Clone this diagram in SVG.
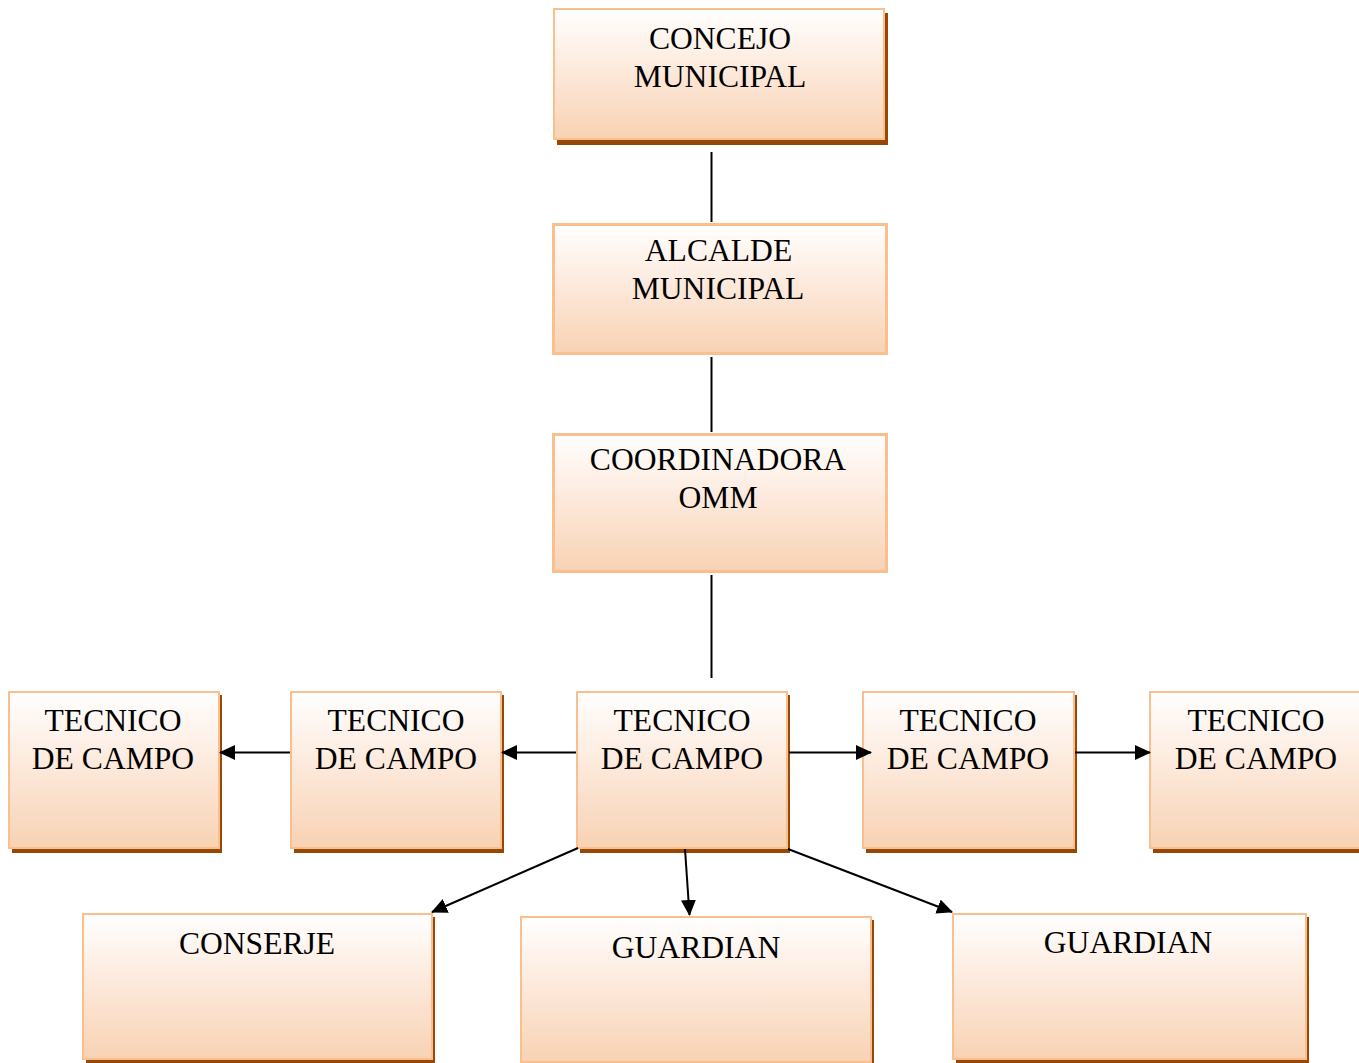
<svg xmlns="http://www.w3.org/2000/svg" width="1359" height="1063" viewBox="0 0 1359 1063">
<defs>
<linearGradient id="fillg" x1="0" y1="0" x2="0" y2="1">
<stop offset="0" stop-color="#ffffff"/>
<stop offset="0.45" stop-color="#fdeadd"/>
<stop offset="1" stop-color="#f8d2b3"/>
</linearGradient>
<marker id="arr" markerUnits="userSpaceOnUse" markerWidth="16" markerHeight="15" refX="15" refY="7.5" orient="auto">
<path d="M0,0 L16,7.5 L0,15 Z" fill="#000"/>
</marker>
</defs>
<style>
.box{fill:url(#fillg);stroke:#fabf8f;stroke-width:2}
.box3{fill:url(#fillg);stroke:#fabf8f;stroke-width:3}
.shadow{fill:#984806}
.t{font-family:"Liberation Serif","Times New Roman",serif;font-size:31.6px;fill:#000;text-anchor:middle}
.ln{stroke:#000;stroke-width:2;fill:none}
.ar{stroke:#000;stroke-width:2;fill:none;marker-end:url(#arr)}
</style>
<rect width="1359" height="1063" fill="#fff"/>
<g id="concejo">
<rect class="shadow" x="557" y="13" width="331" height="132"/>
<rect class="box" x="554" y="9" width="330" height="130"/>
<text class="t" x="720" y="49">CONCEJO</text>
<text class="t" x="720" y="87">MUNICIPAL</text>
</g>
<g id="alcalde">
<rect class="box3" x="553.5" y="224.5" width="333" height="129"/>
<text class="t" x="718.5" y="261">ALCALDE</text>
<text class="t" x="718" y="299">MUNICIPAL</text>
</g>
<g id="coordinadora">
<rect class="box3" x="553.5" y="434.5" width="333" height="137"/>
<text class="t" x="718" y="470">COORDINADORA</text>
<text class="t" x="718" y="508">OMM</text>
</g>
<g id="tecnico1">
<rect class="shadow" x="12" y="695" width="210" height="158"/>
<rect class="box" x="9" y="692" width="210" height="156"/>
<text class="t" x="113" y="731">TECNICO</text>
<text class="t" x="113" y="769">DE CAMPO</text>
</g>
<g id="tecnico2">
<rect class="shadow" x="294" y="695" width="210" height="158"/>
<rect class="box" x="291" y="692" width="210" height="156"/>
<text class="t" x="396" y="731">TECNICO</text>
<text class="t" x="396" y="769">DE CAMPO</text>
</g>
<g id="tecnico3">
<rect class="shadow" x="580" y="695" width="210" height="158"/>
<rect class="box" x="577" y="692" width="210" height="156"/>
<text class="t" x="682" y="731">TECNICO</text>
<text class="t" x="682" y="769">DE CAMPO</text>
</g>
<g id="tecnico4">
<rect class="shadow" x="866" y="695" width="211" height="158"/>
<rect class="box" x="863" y="692" width="211" height="156"/>
<text class="t" x="968" y="731">TECNICO</text>
<text class="t" x="968" y="769">DE CAMPO</text>
</g>
<g id="tecnico5">
<rect class="shadow" x="1153" y="695" width="211" height="158"/>
<rect class="box" x="1150" y="692" width="211" height="156"/>
<text class="t" x="1256" y="731">TECNICO</text>
<text class="t" x="1256" y="769">DE CAMPO</text>
</g>
<g id="conserje">
<rect class="shadow" x="86" y="917" width="349" height="147"/>
<rect class="box" x="83" y="914" width="349" height="145"/>
<text class="t" x="257" y="954">CONSERJE</text>
</g>
<g id="guardian1">
<rect class="shadow" x="524" y="920" width="350" height="147"/>
<rect class="box" x="521" y="917" width="350" height="145"/>
<text class="t" x="696" y="958">GUARDIAN</text>
</g>
<g id="guardian2">
<rect class="shadow" x="956" y="917" width="353" height="146"/>
<rect class="box" x="953" y="914" width="353" height="145"/>
<text class="t" x="1128" y="953">GUARDIAN</text>
</g>
<g id="connectors">
<line class="ln" x1="711.5" y1="152" x2="711.5" y2="222"/>
<line class="ln" x1="711.5" y1="357" x2="711.5" y2="432"/>
<line class="ln" x1="711.5" y1="575" x2="711.5" y2="678"/>
<line class="ar" x1="290" y1="752.5" x2="220" y2="752.5"/>
<line class="ar" x1="576" y1="752.5" x2="502" y2="752.5"/>
<line class="ar" x1="789" y1="752.5" x2="871" y2="752.5"/>
<line class="ar" x1="1075" y1="752.5" x2="1150" y2="752.5"/>
<line class="ar" x1="578" y1="848" x2="432" y2="912"/>
<line class="ar" x1="685" y1="849" x2="689.5" y2="915"/>
<line class="ar" x1="788" y1="849" x2="952" y2="912"/>
</g>
</svg>
